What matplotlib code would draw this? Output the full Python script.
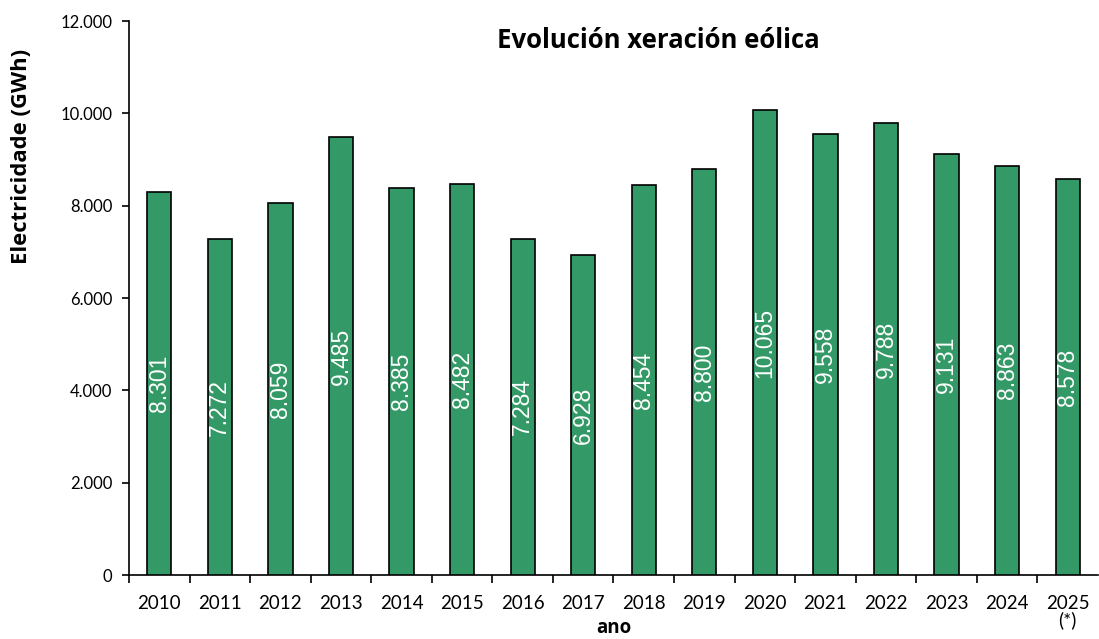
import matplotlib
matplotlib.use("Agg")
import matplotlib.pyplot as plt
from matplotlib.ticker import FuncFormatter, FixedLocator

years = ["2010", "2011", "2012", "2013", "2014", "2015", "2016", "2017",
         "2018", "2019", "2020", "2021", "2022", "2023", "2024", "2025\n(*)"]
values = [8301, 7272, 8059, 9485, 8385, 8482, 7284, 6928,
          8454, 8800, 10065, 9558, 9788, 9131, 8863, 8578]

def fmt(v):
    return f"{int(v):,}".replace(",", ".")

fig = plt.figure(figsize=(10.99, 6.39), dpi=100)
ax = fig.add_axes([0.1174, 0.1, 0.8816, 0.867])

x = list(range(len(values)))
ax.bar(x, values, width=0.4, color="#339966", edgecolor="black", linewidth=1.2, zorder=3)

for xi, v in zip(x, values):
    ax.text(xi, v / 2, fmt(v), rotation=90, ha="center", va="center",
            color="white", fontsize=16.5, fontfamily="Liberation Sans", zorder=4)

ax.set_xlim(-0.5, len(values) - 0.5)
ax.set_ylim(0, 12000)
ax.set_yticks(range(0, 12001, 2000))
ax.yaxis.set_major_formatter(FuncFormatter(lambda v, p: fmt(v)))

ax.set_xticks(x)
ax.set_xticklabels(years, fontsize=13.5, family="Lato", va="top", linespacing=1.0)
ax.tick_params(axis="x", which="major", length=0, pad=14)
ax.xaxis.set_minor_locator(FixedLocator([i + 0.5 for i in range(-1, len(values) - 1)]))
ax.tick_params(axis="x", which="minor", length=6, width=1.2, direction="out")
ax.tick_params(axis="y", length=5, width=1.2, pad=7, labelsize=12, labelfontfamily="Lato")

for side in ["top", "right"]:
    ax.spines[side].set_visible(False)
for side in ["left", "bottom"]:
    ax.spines[side].set_linewidth(1.2)

ax.set_ylabel("Electricidade (GWh)", fontsize=15.8, fontweight="bold", family="Open Sans")
ax.yaxis.set_label_coords(-0.100, 0.755)
ax.set_xlabel("ano", fontsize=13.5, fontweight="bold", family="Open Sans")
ax.xaxis.set_label_coords(0.5, -0.077)

fig.text(0.599, 0.937, "Evolución xeración eólica", ha="center", va="center",
         fontsize=18.5, fontweight="bold", family="Open Sans")

fig.savefig("out.png", dpi=100)
